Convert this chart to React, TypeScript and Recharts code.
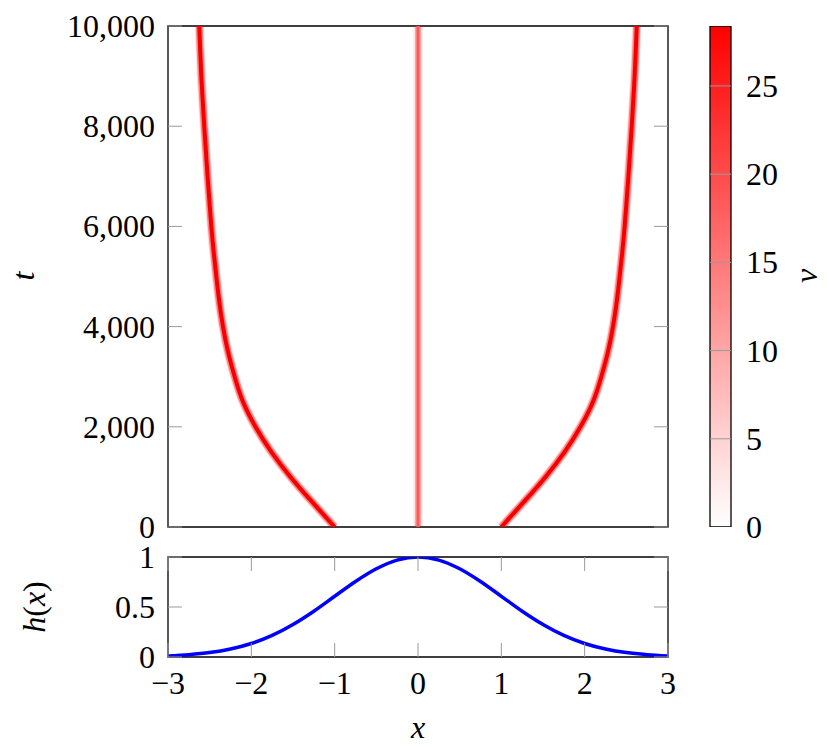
import React from 'react';
import { LineChart, Line, XAxis, YAxis, ReferenceArea, BarChart, Bar } from 'recharts';

// ---------- data ----------
const xTicksTop = [-2, -1, 0, 1, 2];
const tTicks = [0, 2000, 4000, 6000, 8000, 10000];
const xTicksBottom = [-3, -2, -1, 0, 1, 2, 3];
const hTicks = [0, 0.5, 1];
const vTicks = [0, 5, 10, 15, 20, 25];
const vMax = 28.4;

const tSamples = [
  0, 500, 1000, 1500, 2000, 2500, 3000, 3500, 4000, 4500, 5000,
  5500, 6000, 6500, 7000, 7500, 8000, 8500, 9000, 9500, 10000,
];
const leftFrontX = [
  -1.0, -1.27, -1.53, -1.76, -1.95, -2.1, -2.2, -2.28, -2.34, -2.385, -2.42,
  -2.452, -2.48, -2.503, -2.525, -2.545, -2.565, -2.583, -2.6, -2.613, -2.625,
];
const rightFrontX = [
  1.0, 1.27, 1.53, 1.76, 1.95, 2.1, 2.2, 2.28, 2.34, 2.385, 2.42,
  2.452, 2.48, 2.503, 2.525, 2.545, 2.565, 2.583, 2.6, 2.613, 2.625,
];
const centerT = [0, 10000];
const centerX = [0, 0];

const hX = [-3, -2.75, -2.5, -2.25, -2, -1.75, -1.5, -1.25, -1, -0.75, -0.5, -0.25, 0, 0.25, 0.5, 0.75, 1, 1.25, 1.5, 1.75, 2, 2.25, 2.5, 2.75, 3];
const hY = [0.011, 0.023, 0.044, 0.08, 0.135, 0.216, 0.325, 0.458, 0.607, 0.755, 0.882, 0.969, 1.0, 0.969, 0.882, 0.755, 0.607, 0.458, 0.325, 0.216, 0.135, 0.08, 0.044, 0.023, 0.011];

const leftData = tSamples.map((t, i) => ({ x: leftFrontX[i], t }));
const rightData = tSamples.map((t, i) => ({ x: rightFrontX[i], t }));
const centerData = centerT.map((t, i) => ({ x: centerX[i], t }));
const hData = hX.map((x, i) => ({ x, h: hY[i] }));
const cbData = [{ name: 'v', v: vMax }];

// ---------- style ----------
const FONT = 'Liberation Serif, DejaVu Serif, serif';
const FS = 32;
const TICK = '#9a9a9a';
const TL = 14;
const W = 829;
const H = 747;
const TOP_PH = 501; // top plot height
const PW = 500; // plot width
const BOT_PH = 100;

const txt: React.CSSProperties = { fontFamily: FONT, fontSize: FS };

const fmtT = (v: number) => v.toLocaleString('en-US');
const fmtX = (v: number) => (v < 0 ? '\u2212' + Math.abs(v) : String(v));

const TopXTick = (p: any) => (
  <g>
    <line x1={p.x} x2={p.x} y1={p.y} y2={p.y - TL} stroke={TICK} strokeWidth={1} />
    <line x1={p.x} x2={p.x} y1={p.y - TOP_PH} y2={p.y - TOP_PH + TL} stroke={TICK} strokeWidth={1} />
  </g>
);

const TopYTick = (p: any) => (
  <g>
    <line x1={p.x} x2={p.x + TL} y1={p.y} y2={p.y} stroke={TICK} strokeWidth={1} />
    <line x1={p.x + PW} x2={p.x + PW - TL} y1={p.y} y2={p.y} stroke={TICK} strokeWidth={1} />
    <text x={p.x - 13} y={p.y + 11} textAnchor="end" style={txt} fill="#000">
      {fmtT(p.payload.value)}
    </text>
  </g>
);

const BotXTick = (p: any) => (
  <g>
    <line x1={p.x} x2={p.x} y1={p.y} y2={p.y - TL} stroke={TICK} strokeWidth={1} />
    <line x1={p.x} x2={p.x} y1={p.y - BOT_PH} y2={p.y - BOT_PH + TL} stroke={TICK} strokeWidth={1} />
    <text x={p.x} y={p.y + 37} textAnchor="middle" style={txt} fill="#000">
      {fmtX(p.payload.value)}
    </text>
  </g>
);

const BotYTick = (p: any) => (
  <g>
    <line x1={p.x} x2={p.x + TL} y1={p.y} y2={p.y} stroke={TICK} strokeWidth={1} />
    <line x1={p.x + PW} x2={p.x + PW - TL} y1={p.y} y2={p.y} stroke={TICK} strokeWidth={1} />
    <text x={p.x - 13} y={p.y + 11} textAnchor="end" style={txt} fill="#000">
      {String(p.payload.value)}
    </text>
  </g>
);

const CbTick = (p: any) => (
  <g>
    {p.payload.value > 0 && (
      <line x1={p.x - 21} x2={p.x} y1={p.y} y2={p.y} stroke={TICK} strokeWidth={1} />
    )}
    <text x={p.x + 15} y={p.y + 11} textAnchor="start" style={txt} fill="#000">
      {String(p.payload.value)}
    </text>
  </g>
);

const rotLabel = (text: any, cx: number, cy: number) => (
  <text
    x={cx}
    y={cy}
    transform={`rotate(-90, ${cx}, ${cy})`}
    textAnchor="middle"
    dominantBaseline="middle"
    style={txt}
    fill="#000"
  >
    {text}
  </text>
);

const layer = (id: string, data: any[], color: string, width: number, opacity: number) => (
  <Line
    key={id}
    data={data}
    dataKey="t"
    xAxisId="x"
    yAxisId="y"
    type="natural"
    stroke={color}
    strokeWidth={width}
    strokeOpacity={opacity}
    dot={false}
    activeDot={false}
    isAnimationActive={false}
    strokeLinecap="butt"
  />
);

const abs: React.CSSProperties = { position: 'absolute', left: 0, top: 0 };

export default function App() {
  return (
    <div style={{ position: 'absolute', left: 0, top: 0, width: W, height: H, background: '#fff' }}>
      {/* top heat map panel */}
      <div style={abs}>
        <LineChart width={W} height={560} margin={{ top: 26, right: 161, bottom: 33, left: 8 }}>
          <XAxis
            xAxisId="x"
            type="number"
            dataKey="x"
            domain={[-3, 3]}
            ticks={xTicksTop}
            height={0}
            tickSize={0}
            tickMargin={0}
            axisLine={false}
            tickLine={false}
            tick={(p: any) => <TopXTick {...p} />}
            allowDataOverflow
          />
          <YAxis
            yAxisId="y"
            type="number"
            dataKey="t"
            domain={[0, 10000]}
            ticks={tTicks}
            width={160}
            tickSize={0}
            tickMargin={0}
            axisLine={false}
            tickLine={false}
            tick={(p: any) => <TopYTick {...p} />}
            allowDataOverflow
            label={{ content: () => rotLabel(<tspan fontStyle="italic">t</tspan>, 27, 276) }}
          />
          <ReferenceArea xAxisId="x" yAxisId="y" x1={-3} x2={3} y1={0} y2={10000} fill="none" stroke="#000" strokeWidth={1.3} fillOpacity={0} />
          {layer('c1', centerData, '#ff0000', 9, 0.12)}
          {layer('c2', centerData, '#ff3030', 6, 0.35)}
          {layer('c3', centerData, '#ff5a5a', 3, 1)}
          {layer('l1', leftData, '#ff0000', 9, 0.15)}
          {layer('l2', leftData, '#ff0000', 7, 0.4)}
          {layer('l3', leftData, '#f50000', 4, 1)}
          {layer('r1', rightData, '#ff0000', 9, 0.15)}
          {layer('r2', rightData, '#ff0000', 7, 0.4)}
          {layer('r3', rightData, '#f50000', 4, 1)}
        </LineChart>
      </div>

      {/* bottom h(x) panel */}
      <div style={abs}>
        <LineChart width={W} height={H} data={hData} margin={{ top: 557, right: 161, bottom: 0, left: 8 }}>
          <XAxis
            type="number"
            dataKey="x"
            domain={[-3, 3]}
            ticks={xTicksBottom}
            height={90}
            tickSize={0}
            tickMargin={0}
            axisLine={false}
            tickLine={false}
            tick={(p: any) => <BotXTick {...p} />}
            allowDataOverflow
            label={{
              content: () => (
                <text x={418} y={738} textAnchor="middle" style={txt} fontStyle="italic" fill="#000">
                  x
                </text>
              ),
            }}
          />
          <YAxis
            type="number"
            domain={[0, 1]}
            ticks={hTicks}
            width={160}
            tickSize={0}
            tickMargin={0}
            axisLine={false}
            tickLine={false}
            tick={(p: any) => <BotYTick {...p} />}
            allowDataOverflow
            label={{
              content: () =>
                rotLabel(
                  <>
                    <tspan fontStyle="italic">h</tspan>(<tspan fontStyle="italic">x</tspan>)
                  </>,
                  38,
                  607
                ),
            }}
          />
          <ReferenceArea x1={-3} x2={3} y1={0} y2={1} fill="none" stroke="#000" strokeWidth={1.3} fillOpacity={0} />
          <Line
            dataKey="h"
            type="monotone"
            stroke="#0000ff"
            strokeWidth={3.5}
            dot={false}
            activeDot={false}
            isAnimationActive={false}
          />
        </LineChart>
      </div>

      {/* colorbar */}
      <div style={abs}>
        <BarChart width={W} height={H} data={cbData} margin={{ top: 26, right: 8, bottom: 220, left: 710 }} barCategoryGap={0}>
          <defs>
            <linearGradient id="cbGrad" x1="0" y1="1" x2="0" y2="0">
              <stop offset="0%" stopColor="#ffffff" />
              <stop offset="100%" stopColor="#ff0000" />
            </linearGradient>
          </defs>
          <XAxis dataKey="name" hide />
          <YAxis
            orientation="right"
            type="number"
            domain={[0, vMax]}
            ticks={vTicks}
            width={90}
            tickSize={0}
            tickMargin={0}
            axisLine={false}
            tickLine={false}
            tick={(p: any) => <CbTick {...p} />}
            allowDataOverflow
            label={{ content: () => rotLabel(<tspan fontStyle="italic">v</tspan>, 810, 276) }}
          />
          <Bar dataKey="v" fill="url(#cbGrad)" stroke="#000" strokeWidth={1.3} isAnimationActive={false} />
        </BarChart>
      </div>
    </div>
  );
}
